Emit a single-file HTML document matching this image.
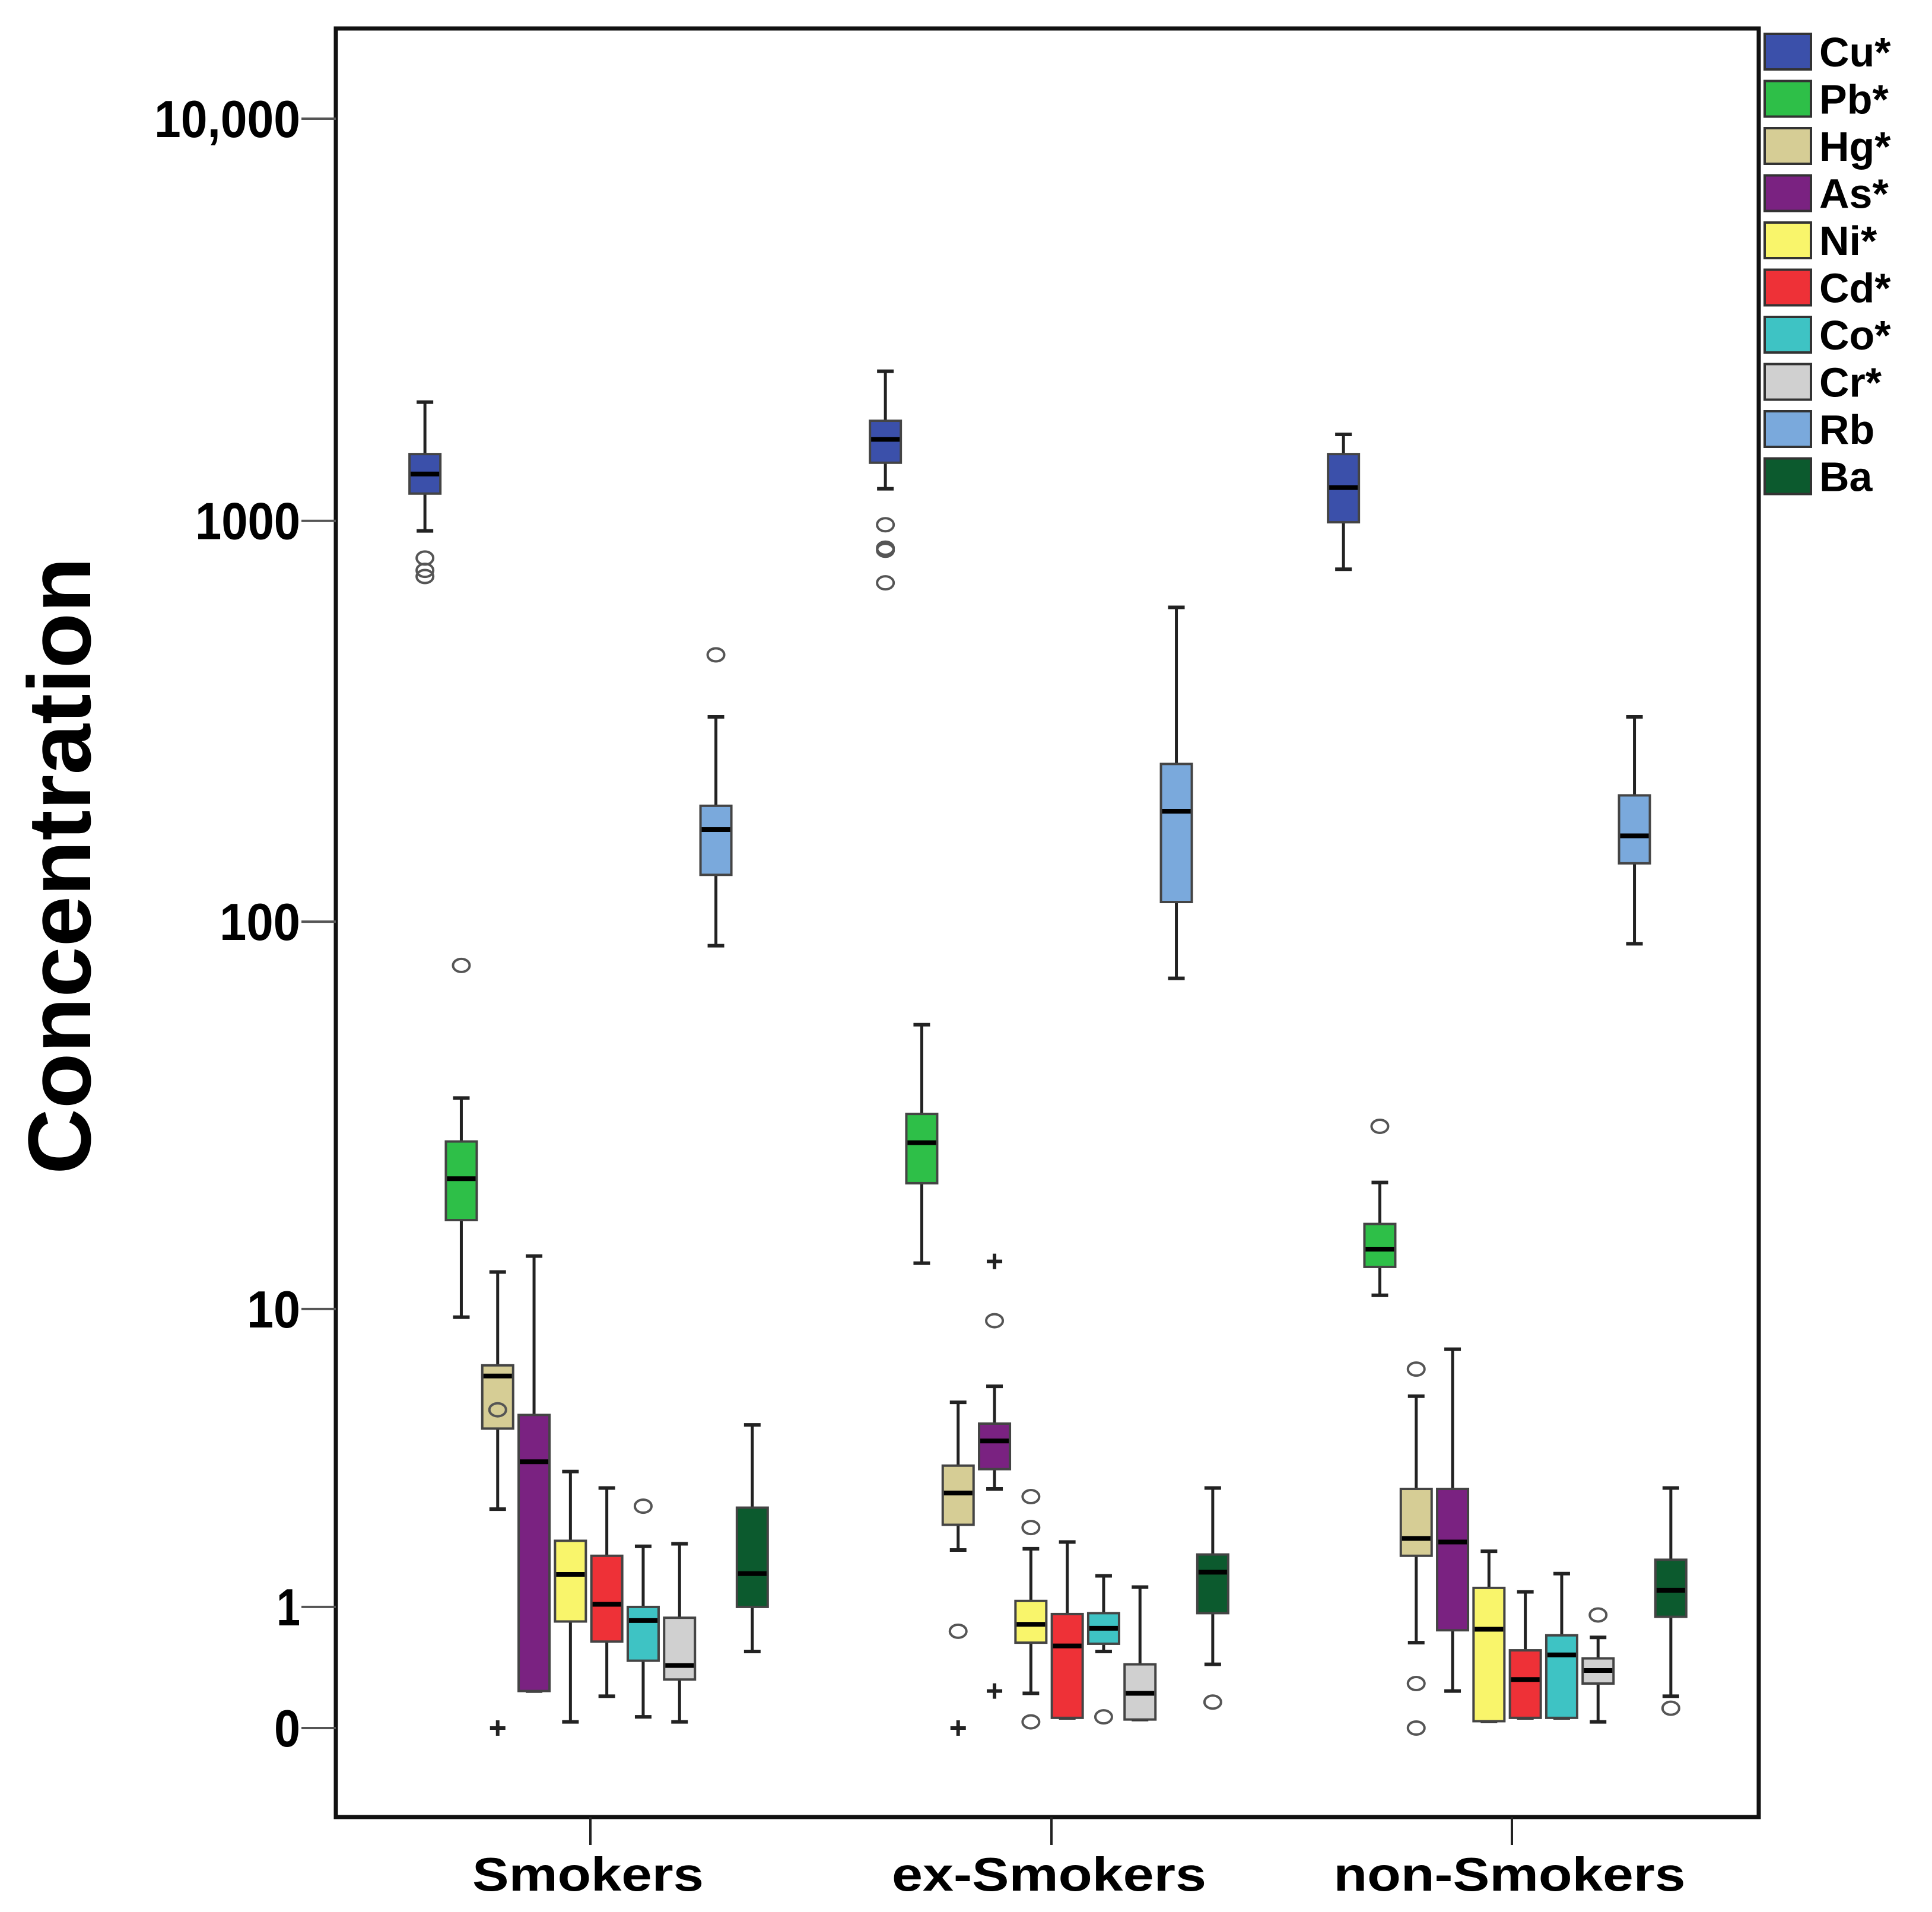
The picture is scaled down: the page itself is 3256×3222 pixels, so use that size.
<!DOCTYPE html>
<html><head><meta charset="utf-8"><style>
html,body{margin:0;padding:0;background:#fff;}
svg{display:block;}
text{font-family:"Liberation Sans",Arial,sans-serif;font-weight:bold;fill:#000;}
</style></head><body>
<svg id="chart" width="3256" height="3222" viewBox="0 0 3256 3222" xmlns="http://www.w3.org/2000/svg">
<g id="plot"></g>
</svg>
<script>
const groups = ["Smokers","ex-Smokers","non-Smokers"];
const elements = ["Cu*","Pb*","Hg*","As*","Ni*","Cd*","Co*","Cr*","Rb","Ba"];
const colors = ["#3b50aa","#2ebf48","#d6cd95","#7a2281","#f9f56b","#ee3137","#3ec3c4","#d0d0d0","#7aa9dc","#0c5a2e"];
const yTickValues = [0,1,10,100,1000,10000];
const yTickLabels = ["0","1","10","100","1000","10,000"];
// [low whisker, Q1, median, Q3, high whisker]
const smokersStats = [
 [944,1169,1308,1466,1974],[9.5,17.3,22.2,27.7,35.8],[2.5,4.55,6.5,6.97,12.6],[0.236,0.236,3.59,5.0,13.9],
 [0.036,0.84,1.41,1.92,3.34],[0.2,0.64,1.03,1.68,2.95],[0.066,0.47,0.85,1.0,1.83],[0.036,0.32,0.43,0.88,1.87],
 [87,131,170,195,325],[0.55,1.0,1.42,2.53,4.67]];
const exSmokersStats = [
 [1202,1395,1595,1774,2355],[13.3,21.6,27.5,32.6,55],[1.77,2.2,2.84,3.49,5.45],[2.93,3.4,4.17,4.71,6.07],
 [0.22,0.63,0.81,1.07,1.79],[0.06,0.06,0.6,0.92,1.9],[0.55,0.62,0.77,0.93,1.39],[0.05,0.05,0.22,0.44,1.24],
 [72,112,189,248,609],[0.44,0.93,1.44,1.7,2.95]];
const nonSmokersStats = [
 [758,992,1210,1466,1641],[10.9,13.0,14.5,16.9,21.7],[0.63,1.68,1.96,2.93,5.68],[0.236,0.75,1.9,2.93,7.74],
 [0.04,0.04,0.76,1.23,1.75],[0.06,0.06,0.32,0.56,1.18],[0.06,0.06,0.52,0.7,1.42],[0.036,0.29,0.39,0.49,0.68],
 [88,140,164,207,325],[0.2,0.89,1.2,1.62,2.95]];
// outliers: [elementIndex, value]
const smokersOutliers = [[0,808],[0,753],[0,727],[1,77.6],[2,5.18],[6,2.56],[8,464]];
const smokersExtremes = [[2,0]];
const exSmokersOutliers = [[0,978],[0,855],[0,845],[0,701],[2,0.74],[3,9.29],[4,2.76],[4,2.15],[4,0.036],[6,0.066],[9,0.16]];
const exSmokersExtremes = [[2,0],[3,13.45],[3,0.236]];
const nonSmokersOutliers = [[1,30.3],[2,6.8],[2,0.29],[2,0],[7,0.91],[9,0.12]];
const nonSmokersExtremes = [];

const statsByGroup = [smokersStats, exSmokersStats, nonSmokersStats];
const outByGroup = [smokersOutliers, exSmokersOutliers, nonSmokersOutliers];
const extByGroup = [smokersExtremes, exSmokersExtremes, nonSmokersExtremes];

const NS = "http://www.w3.org/2000/svg";
const plot = document.getElementById('plot');
const L=566, R=2964, T=48, B=3062;
const Y0=2912, PPD=678;
function yScale(v){ return Y0 - Math.log10(v+1)*PPD; }
const groupX=[992,1768,2540];
const tickX=[995,1772,2548];
const SP=61.3, BW=52;
function xScale(g,i){ return groupX[g] + (i-4.5)*SP; }
function mk(tag, attrs, parent){
  const e=document.createElementNS(NS,tag);
  for(const k in attrs) e.setAttribute(k,attrs[k]);
  (parent||plot).appendChild(e); return e;
}
const frame = mk('rect',{x:L,y:T,width:R-L,height:B-T,fill:'none',stroke:'#111','stroke-width':7});


const ylabW={"0":44,"1":40,"10":90,"100":136,"1000":177,"10,000":246};
yTickValues.forEach((v,k)=>{
  const y=yScale(v);
  const t=mk('line',{x1:L-58,x2:L,y1:y,y2:y,stroke:'#555','stroke-width':4});
  
  
  const lab=mk('text',{x:L-60,y:y+31,'font-size':88,'text-anchor':'end',textLength:ylabW[yTickLabels[k]],lengthAdjust:'spacingAndGlyphs'});
  lab.textContent=yTickLabels[k];
  
  
});
const labW=[390,530,593];
groups.forEach((g,gi)=>{
  const x=tickX[gi];
  const t=mk('line',{x1:x,x2:x,y1:B,y2:3109,stroke:'#222','stroke-width':4});
  
  
  const lab=mk('text',{x:x-4,y:3186,'font-size':80,'text-anchor':'middle',textLength:labW[gi],lengthAdjust:'spacingAndGlyphs'});
  lab.textContent=g;
  
  
});
const yt=mk('text',{x:0,y:0,'font-size':150,'text-anchor':'middle',transform:'translate(152,1459) rotate(-90)',textLength:1040,lengthAdjust:'spacingAndGlyphs'});
yt.textContent='Concentration';


statsByGroup.forEach((stats,gi)=>{
  stats.forEach((s,i)=>{
    const x=xScale(gi,i);
    const g=mk('g',{});
    
    
    const yl=yScale(s[0]),y1=yScale(s[1]),ym=yScale(s[2]),y3=yScale(s[3]),yh=yScale(s[4]);
    mk('line',{x1:x,x2:x,y1:yh,y2:y3,stroke:'#222','stroke-width':5},g);
    mk('line',{x1:x,x2:x,y1:y1,y2:yl,stroke:'#222','stroke-width':5},g);
    mk('line',{x1:x-14,x2:x+14,y1:yh,y2:yh,stroke:'#222','stroke-width':6},g);
    mk('line',{x1:x-14,x2:x+14,y1:yl,y2:yl,stroke:'#222','stroke-width':6},g);
    mk('rect',{x:x-BW/2,y:y3,width:BW,height:Math.max(y1-y3,2),fill:colors[i],stroke:'#444','stroke-width':4},g);
    mk('line',{x1:x-BW/2+2,x2:x+BW/2-2,y1:ym,y2:ym,stroke:'#000','stroke-width':8},g);
  });
});
outByGroup.forEach((arr,gi)=>{
  arr.forEach(o=>{
    const c=mk('ellipse',{cx:xScale(gi,o[0]),cy:yScale(o[1]),rx:14,ry:11,fill:'none',stroke:'#555','stroke-width':4});
    
    
  });
});
extByGroup.forEach((arr,gi)=>{
  arr.forEach(o=>{
    const x=xScale(gi,o[0]),y=yScale(o[1]);
    const p=mk('path',{d:`M${x-13},${y}H${x+13}M${x},${y-13}V${y+13}`,stroke:'#222','stroke-width':6});
    
    
  });
});
const legPitch=79.5;
elements.forEach((e,i)=>{
  const y=57+i*legPitch;
  const g=mk('g',{});
  
  
  mk('rect',{x:2974,y:y,width:78,height:60,fill:colors[i],stroke:'#333','stroke-width':4},g);
  const t=mk('text',{x:3066,y:y+55,'font-size':70},g);
  t.textContent=e;
});
</script>
</body></html>
